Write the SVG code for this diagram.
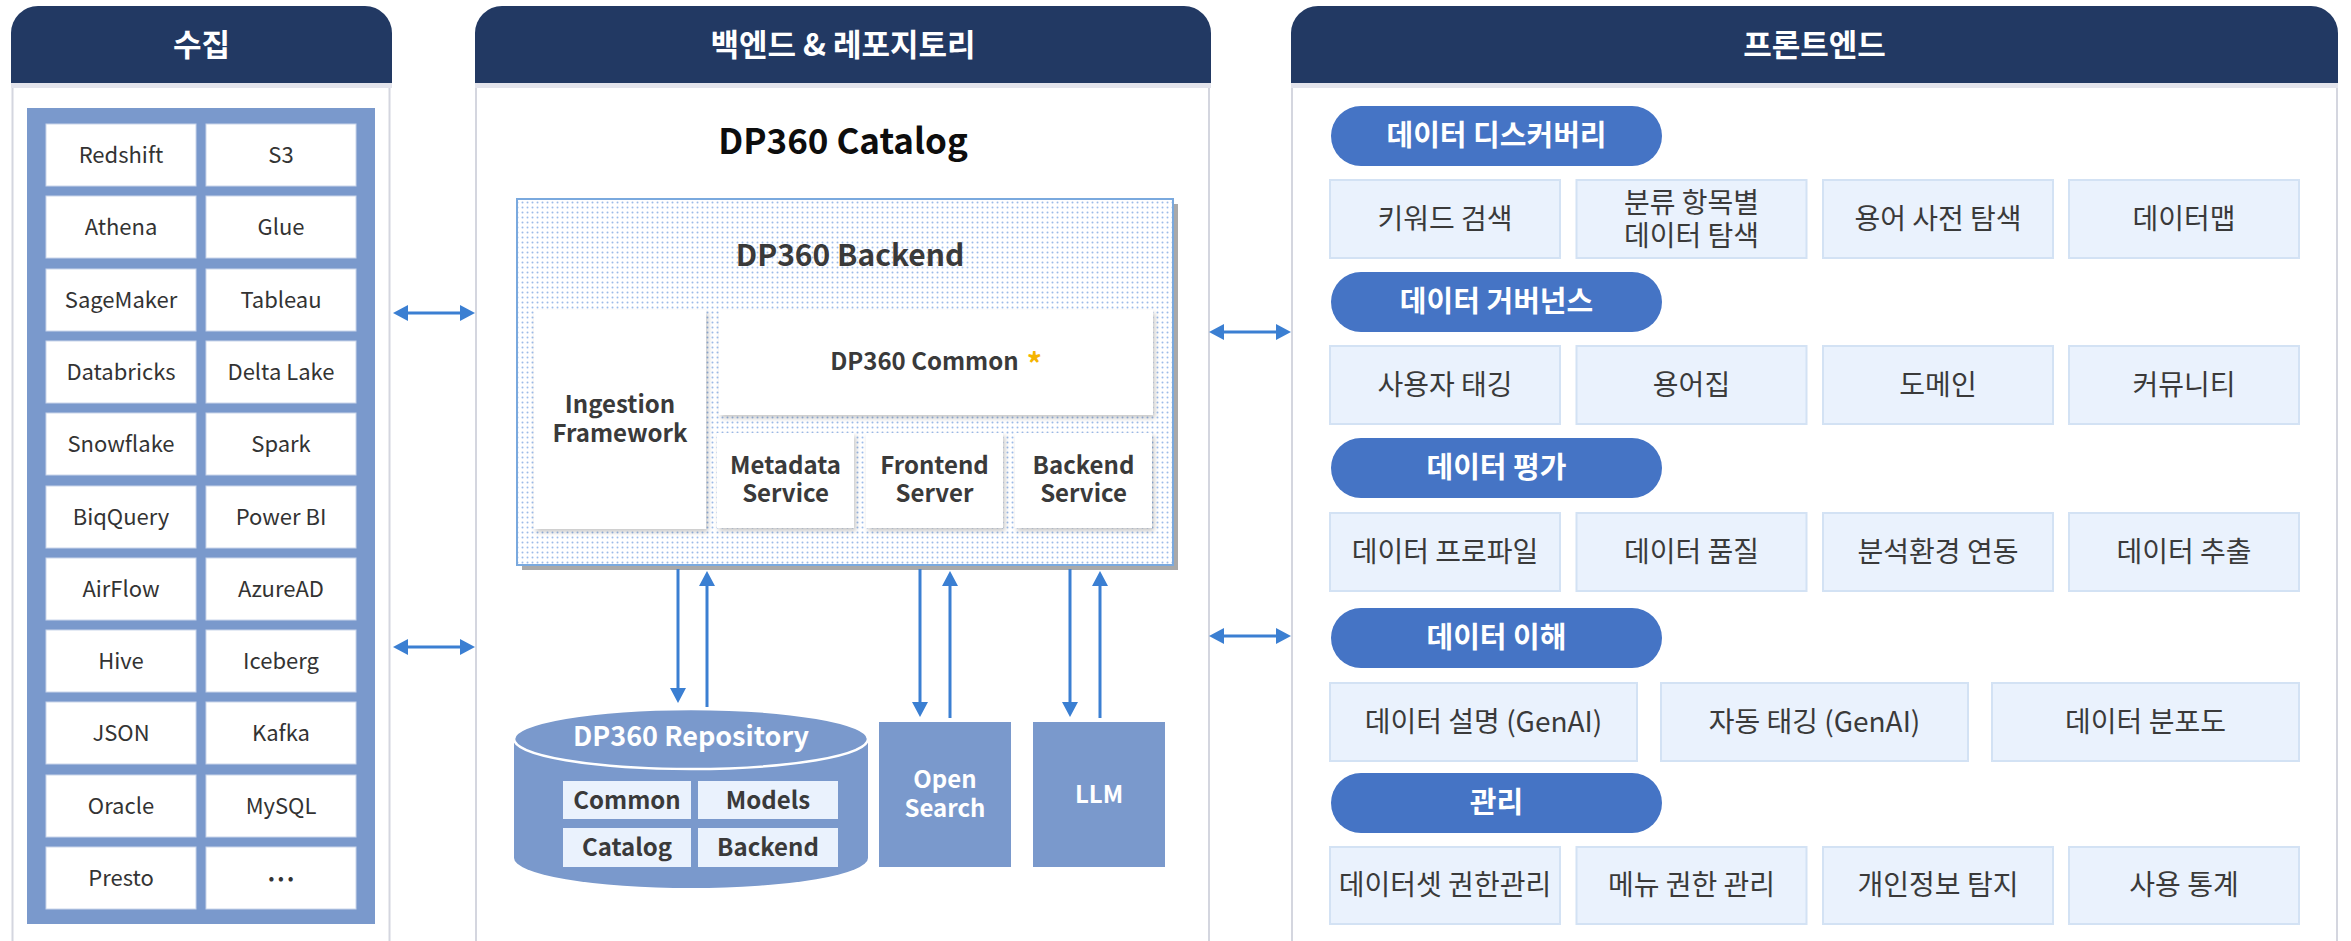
<svg xmlns="http://www.w3.org/2000/svg" width="2351" height="941" viewBox="0 0 2351 941">
<defs>
<style>
text{font-family:"Noto Sans CJK KR","Noto Sans",sans-serif}
.hd{fill:#223963}
.hdt{fill:#fff;font-size:31px;font-weight:700;text-anchor:middle}
.body{fill:#fff;stroke:#d4d6df;stroke-width:2}
.strip{fill:#e3e4ec}
.src{fill:#fff;stroke:#c9d5ea;stroke-width:1}
.srct{fill:#333;font-size:22px;text-anchor:middle}
.pill{fill:#4574c5}
.pillt{fill:#fff;font-size:29px;font-weight:700;text-anchor:middle}
.fc{fill:#eaf2fd;stroke:#d3e2f4;stroke-width:2}
.fct{fill:#3a3a3a;font-size:28px;text-anchor:middle}
.wb{fill:#fff;filter:url(#sh)}
.bt{fill:#3a3a3a;font-size:24px;font-weight:700;text-anchor:middle}
.blue{fill:#7a99cc}
.wt{fill:#fff;font-size:24px;font-weight:700;text-anchor:middle}
.rc{fill:#eaf2fd}
.conn{stroke:#3b7fd2;stroke-width:3;fill:none}
</style>
<pattern id="dots" width="5" height="5" patternUnits="userSpaceOnUse"><rect width="5" height="5" fill="#fff"/><circle cx="2.5" cy="2.5" r="1" fill="#9dbce9"/></pattern>
<filter id="sh" x="-10%" y="-10%" width="130%" height="130%"><feDropShadow dx="2" dy="3" stdDeviation="2.5" flood-color="#000" flood-opacity="0.22"/></filter>
<marker id="ah" viewBox="0 0 15 16" refX="1" refY="8" markerWidth="15" markerHeight="16" markerUnits="userSpaceOnUse" orient="auto-start-reverse"><path d="M0,0 L15,8 L0,16 Z" fill="#3b7fd2"/></marker>
</defs>
<rect width="2351" height="941" fill="#fff"/>

<!-- Panels -->
<g id="panel-collect">
<rect class="body" x="12.5" y="83" width="377" height="870"/>
<path class="hd" d="M11,83 V33 A27,27 0 0 1 38,6 H365 A27,27 0 0 1 392,33 V83 Z"/>
<rect class="strip" x="11" y="83" width="381" height="5"/>
<text class="hdt" x="201.5" y="56">수집</text>
</g>
<g id="panel-backend">
<rect class="body" x="476" y="83" width="733" height="870"/>
<path class="hd" d="M475,83 V33 A27,27 0 0 1 502,6 H1184 A27,27 0 0 1 1211,33 V83 Z"/>
<rect class="strip" x="475" y="83" width="736" height="5"/>
<text class="hdt" x="843" y="56">백엔드 &amp; 레포지토리</text>
</g>
<g id="panel-frontend">
<rect class="body" x="1292" y="83" width="1045" height="870"/>
<path class="hd" d="M1291,83 V33 A27,27 0 0 1 1318,6 H2311 A27,27 0 0 1 2338,33 V83 Z"/>
<rect class="strip" x="1291" y="83" width="1047" height="5"/>
<text class="hdt" x="1814.5" y="56">프론트엔드</text>
</g>

<!-- Sources -->
<g id="sources">
<rect class="blue" x="27" y="108" width="348" height="816"/>
<rect class="src" x="46" y="124" width="150" height="62"/><text class="srct" x="121" y="163">Redshift</text>
<rect class="src" x="206" y="124" width="150" height="62"/><text class="srct" x="281" y="163">S3</text>
<rect class="src" x="46" y="196" width="150" height="62"/><text class="srct" x="121" y="235">Athena</text>
<rect class="src" x="206" y="196" width="150" height="62"/><text class="srct" x="281" y="235">Glue</text>
<rect class="src" x="46" y="269" width="150" height="62"/><text class="srct" x="121" y="308">SageMaker</text>
<rect class="src" x="206" y="269" width="150" height="62"/><text class="srct" x="281" y="308">Tableau</text>
<rect class="src" x="46" y="341" width="150" height="62"/><text class="srct" x="121" y="380">Databricks</text>
<rect class="src" x="206" y="341" width="150" height="62"/><text class="srct" x="281" y="380">Delta Lake</text>
<rect class="src" x="46" y="413" width="150" height="62"/><text class="srct" x="121" y="452">Snowflake</text>
<rect class="src" x="206" y="413" width="150" height="62"/><text class="srct" x="281" y="452">Spark</text>
<rect class="src" x="46" y="486" width="150" height="62"/><text class="srct" x="121" y="525">BiqQuery</text>
<rect class="src" x="206" y="486" width="150" height="62"/><text class="srct" x="281" y="525">Power BI</text>
<rect class="src" x="46" y="558" width="150" height="62"/><text class="srct" x="121" y="597">AirFlow</text>
<rect class="src" x="206" y="558" width="150" height="62"/><text class="srct" x="281" y="597">AzureAD</text>
<rect class="src" x="46" y="630" width="150" height="62"/><text class="srct" x="121" y="669">Hive</text>
<rect class="src" x="206" y="630" width="150" height="62"/><text class="srct" x="281" y="669">Iceberg</text>
<rect class="src" x="46" y="702" width="150" height="62"/><text class="srct" x="121" y="741">JSON</text>
<rect class="src" x="206" y="702" width="150" height="62"/><text class="srct" x="281" y="741">Kafka</text>
<rect class="src" x="46" y="775" width="150" height="62"/><text class="srct" x="121" y="814">Oracle</text>
<rect class="src" x="206" y="775" width="150" height="62"/><text class="srct" x="281" y="814">MySQL</text>
<rect class="src" x="46" y="847" width="150" height="62"/><text class="srct" x="121" y="886">Presto</text>
<rect class="src" x="206" y="847" width="150" height="62"/><text class="srct" x="281" y="884" style="font-size:17px">•  •  •</text>
</g>

<!-- Catalog -->
<text x="843" y="154" style="fill:#0d0d0d;font-size:35px;font-weight:700;text-anchor:middle">DP360 Catalog</text>

<g id="backend">
<rect x="522" y="204" width="656" height="366" fill="#a9a9a9"/>
<rect x="517" y="199" width="656" height="366" fill="url(#dots)" stroke="#7aa9de" stroke-width="2"/>
<text x="850" y="266" style="fill:#3a3a3a;font-size:30px;font-weight:700;text-anchor:middle">DP360 Backend</text>
</g>
<g id="ingestion">
<rect class="wb" x="534" y="310" width="172" height="219"/>
<text class="bt" x="620" y="413">Ingestion</text>
<text class="bt" x="620" y="442">Framework</text>
</g>
<g id="common">
<rect class="wb" x="719" y="310" width="434" height="105"/>
<text class="bt" x="936" y="370">DP360 Common<tspan fill="#f5b400" dx="8" dy="5" style="font-size:30px">*</tspan></text>
</g>
<g id="metadata">
<rect class="wb" x="717" y="433" width="137" height="95"/>
<text class="bt" x="785.5" y="474">Metadata</text>
<text class="bt" x="785.5" y="502">Service</text>
</g>
<g id="frontend-server">
<rect class="wb" x="866" y="433" width="137" height="95"/>
<text class="bt" x="934.5" y="474">Frontend</text>
<text class="bt" x="934.5" y="502">Server</text>
</g>
<g id="backend-service">
<rect class="wb" x="1015" y="433" width="137" height="95"/>
<text class="bt" x="1083.5" y="474">Backend</text>
<text class="bt" x="1083.5" y="502">Service</text>
</g>

<g id="repository">
<path class="blue" d="M514,739 A177,30 0 0 1 868,739 L868,858 A177,30 0 0 1 514,858 Z"/>
<ellipse cx="691" cy="739" rx="177" ry="30" fill="#7a99cc" stroke="#fff" stroke-width="2.5"/>
<text x="691" y="746" style="fill:#fff;font-size:27px;font-weight:700;text-anchor:middle">DP360 Repository</text>
<rect class="rc" x="563" y="781" width="128" height="38"/><text class="bt" x="627" y="809">Common</text>
<rect class="rc" x="698" y="781" width="140" height="38"/><text class="bt" x="768" y="809">Models</text>
<rect class="rc" x="563" y="828" width="128" height="39"/><text class="bt" x="627" y="856">Catalog</text>
<rect class="rc" x="698" y="828" width="140" height="39"/><text class="bt" x="768" y="856">Backend</text>
</g>
<g id="opensearch">
<rect class="blue" x="879" y="722" width="132" height="145"/>
<text class="wt" x="945" y="788">Open</text>
<text class="wt" x="945" y="817">Search</text>
</g>
<g id="llm">
<rect class="blue" x="1033" y="722" width="132" height="145"/>
<text class="wt" x="1099" y="803">LLM</text>
</g>

<!-- Frontend features -->
<g id="discovery">
<rect class="pill" x="1331" y="106" width="331" height="60" rx="30"/>
<text class="pillt" x="1496.5" y="146">데이터 디스커버리</text>
<rect class="fc" x="1330" y="180" width="230" height="78"/><text class="fct" x="1445" y="229">키워드 검색</text>
<rect class="fc" x="1576.5" y="180" width="230" height="78"/><text class="fct" x="1691.5" y="213">분류 항목별</text><text class="fct" x="1691.5" y="246">데이터 탐색</text>
<rect class="fc" x="1823" y="180" width="230" height="78"/><text class="fct" x="1938" y="229">용어 사전 탐색</text>
<rect class="fc" x="2069" y="180" width="230" height="78"/><text class="fct" x="2184" y="229">데이터맵</text>
</g>
<g id="governance">
<rect class="pill" x="1331" y="272" width="331" height="60" rx="30"/>
<text class="pillt" x="1496.5" y="312">데이터 거버넌스</text>
<rect class="fc" x="1330" y="346" width="230" height="78"/><text class="fct" x="1445" y="395">사용자 태깅</text>
<rect class="fc" x="1576.5" y="346" width="230" height="78"/><text class="fct" x="1691.5" y="395">용어집</text>
<rect class="fc" x="1823" y="346" width="230" height="78"/><text class="fct" x="1938" y="395">도메인</text>
<rect class="fc" x="2069" y="346" width="230" height="78"/><text class="fct" x="2184" y="395">커뮤니티</text>
</g>
<g id="evaluation">
<rect class="pill" x="1331" y="438" width="331" height="60" rx="30"/>
<text class="pillt" x="1496.5" y="478">데이터 평가</text>
<rect class="fc" x="1330" y="513" width="230" height="78"/><text class="fct" x="1445" y="562">데이터 프로파일</text>
<rect class="fc" x="1576.5" y="513" width="230" height="78"/><text class="fct" x="1691.5" y="562">데이터 품질</text>
<rect class="fc" x="1823" y="513" width="230" height="78"/><text class="fct" x="1938" y="562">분석환경 연동</text>
<rect class="fc" x="2069" y="513" width="230" height="78"/><text class="fct" x="2184" y="562">데이터 추출</text>
</g>
<g id="understanding">
<rect class="pill" x="1331" y="608" width="331" height="60" rx="30"/>
<text class="pillt" x="1496.5" y="648">데이터 이해</text>
<rect class="fc" x="1330" y="683" width="307" height="78"/><text class="fct" x="1483.5" y="732">데이터 설명 (GenAI)</text>
<rect class="fc" x="1661" y="683" width="307" height="78"/><text class="fct" x="1814.5" y="732">자동 태깅 (GenAI)</text>
<rect class="fc" x="1992" y="683" width="307" height="78"/><text class="fct" x="2145.5" y="732">데이터 분포도</text>
</g>
<g id="management">
<rect class="pill" x="1331" y="773" width="331" height="60" rx="30"/>
<text class="pillt" x="1496.5" y="813">관리</text>
<rect class="fc" x="1330" y="847" width="230" height="77"/><text class="fct" x="1445" y="895">데이터셋 권한관리</text>
<rect class="fc" x="1576.5" y="847" width="230" height="77"/><text class="fct" x="1691.5" y="895">메뉴 권한 관리</text>
<rect class="fc" x="1823" y="847" width="230" height="77"/><text class="fct" x="1938" y="895">개인정보 탐지</text>
<rect class="fc" x="2069" y="847" width="230" height="77"/><text class="fct" x="2184" y="895">사용 통계</text>
</g>

<!-- Connectors -->
<g id="connectors" class="conn">
<line x1="407" y1="313" x2="461" y2="313" marker-start="url(#ah)" marker-end="url(#ah)"/>
<line x1="407" y1="647" x2="461" y2="647" marker-start="url(#ah)" marker-end="url(#ah)"/>
<line x1="1223" y1="332" x2="1277" y2="332" marker-start="url(#ah)" marker-end="url(#ah)"/>
<line x1="1223" y1="636" x2="1277" y2="636" marker-start="url(#ah)" marker-end="url(#ah)"/>
<line x1="678" y1="569" x2="678" y2="689" marker-end="url(#ah)"/>
<line x1="707" y1="707" x2="707" y2="585" marker-end="url(#ah)"/>
<line x1="920" y1="569" x2="920" y2="703" marker-end="url(#ah)"/>
<line x1="950" y1="718" x2="950" y2="585" marker-end="url(#ah)"/>
<line x1="1070" y1="569" x2="1070" y2="703" marker-end="url(#ah)"/>
<line x1="1100" y1="718" x2="1100" y2="585" marker-end="url(#ah)"/>
</g>
</svg>
